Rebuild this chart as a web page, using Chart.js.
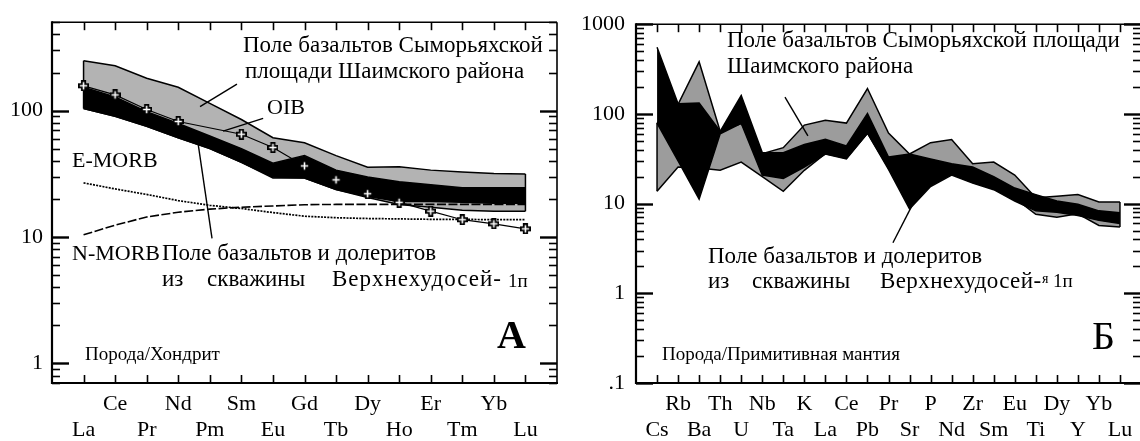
<!DOCTYPE html>
<html><head><meta charset="utf-8">
<script src="https://cdn.jsdelivr.net/npm/chart.js@4"></script>
<style>
html,body{margin:0;padding:0;background:#fff;}
#wrap{position:relative;width:1140px;height:441px;overflow:hidden;background:#fff;}
#pa{position:absolute;left:0;top:0;}
#pb{position:absolute;left:570px;top:0;}
</style></head>
<body>
<div id="wrap">
<canvas id="pa" width="570" height="441"></canvas>
<canvas id="pb" width="580" height="441"></canvas>
</div>
<script>
// ---------- Panel A: REE / chondrite ----------
const elemsA = ['La','Ce','Pr','Nd','Pm','Sm','Eu','Gd','Tb','Dy','Ho','Er','Tm','Yb','Lu'];
const oibA   = [157,133,102,82,null,65,51,36.5,28.3,22,18.8,16,13.7,12.7,11.6];
const emorbA = [26.8,24,21.7,19.4,17.8,16.8,15.6,14.6,14.2,14,13.9,13.8,13.8,13.7,13.7];
const nmorbA = [10.4,12.4,14.4,15.7,16.6,17.2,17.6,18,18.1,18.1,18.1,18.1,18.1,18.1,18.1];
const greyUpA  = [248,226,180,153,114,85,61,55.6,44,35.6,36,33.8,32.6,31.8,31.5];
const greyLoA  = [104,90,75,61,50,39,29.3,29.3,23.7,20.5,18.1,17.2,16.3,16,16];
const blackUpA = [153,128,98,79,63,50,38.3,44,33.8,29.8,27.3,25.9,24.5,24.5,24.5];
const blackLoA = [104,90,75,61,50,39,29.8,29.3,23.7,20.9,19.1,19.1,18.8,18.5,18.5];
const yTicksA  = [1,10,100];
const yLabelsA = ['1','10','100'];

// ---------- Panel B: spider / primitive mantle ----------
const elemsB = ['Cs','Rb','Ba','Th','U','Nb','Ta','K','La','Ce','Pb','Pr','Sr','P','Nd','Zr','Sm','Eu','Ti','Dy','Y','Yb','Lu'];
const greyUpB  = [79,128,380,64,78,36,42,75,85,79,192,61,35.7,47.8,51.9,27.8,29,20.8,11.6,12.1,12.6,10.4,10.4];
const greyLoB  = [13.7,25.6,25,23.5,29,20,13.7,23.5,36,32,61,25,20,18,22,18,15,11.5,7.6,7.05,7.7,5.7,5.5];
const blackUpB = [555,130,132,64,160,37,37,45.6,52,44,101,33,35.7,31.5,27.8,25.6,20,14.9,12.6,10.7,9.85,8.3,7.9];
const blackLoB = [79,30,11.2,60,78.7,20.8,19.1,25.6,35.7,31.5,61,24,8.7,15.5,20.8,16.9,14.3,10.7,8.3,8,7.35,6.5,6.0];
const yTicksB  = [0.1,1,10,100,1000];
const yLabelsB = ['.1','1','10','100','1000'];

const FONT = '"Liberation Serif", "Times New Roman", serif';

function pts(arr){ return arr.map((v,i)=>({x:i,y:v})).filter(p=>p.y!==null); }
function edge(i, lo, hi){ return [{x:i,y:lo[i]},{x:i,y:hi[i]}]; }

function plusMarker(){
  const c=document.createElement('canvas'); c.width=11; c.height=11;
  const g=c.getContext('2d');
  const p=[[3.8,0.9],[7.2,0.9],[7.2,3.8],[10.1,3.8],[10.1,7.2],[7.2,7.2],[7.2,10.1],[3.8,10.1],[3.8,7.2],[0.9,7.2],[0.9,3.8],[3.8,3.8]];
  g.beginPath(); p.forEach((q,i)=>i?g.lineTo(q[0],q[1]):g.moveTo(q[0],q[1])); g.closePath();
  g.fillStyle='#fff'; g.fill(); g.strokeStyle='#000'; g.lineWidth=1.8; g.stroke();
  return c;
}

const framePlugin = {
  id:'frame',
  afterDraw(chart){
    const {ctx, chartArea:a, scales:{x,y}} = chart;
    ctx.save(); ctx.strokeStyle='#000'; ctx.lineCap='butt';
    const L=(x1,y1,x2,y2)=>{ctx.beginPath();ctx.moveTo(x1,y1);ctx.lineTo(x2,y2);ctx.stroke();};
    const lo=y.min, hi=y.max;
    for(let e=Math.floor(Math.log10(lo)); e<=Math.ceil(Math.log10(hi)); e++){
      for(let m=1;m<=9;m++){
        const v=m*Math.pow(10,e);
        if(v<lo*0.999||v>hi*1.001) continue;
        const py=Math.round(y.getPixelForValue(v))+0.5;
        const len = m===1?17:8;
        ctx.lineWidth = m===1?2.4:1.6;
        L(a.left,py,a.left+len,py); L(a.right,py,a.right-len,py);
      }
    }
    ctx.lineWidth=1.6;
    x.ticks.forEach(t=>{const px=Math.round(x.getPixelForValue(t.value))+0.5; L(px,a.bottom,px,a.bottom-8); L(px,a.top,px,a.top+8);});
    ctx.lineWidth=2.2;
    L(a.left,a.top-1,a.left,a.bottom+1); L(a.left-1,a.bottom,a.right+1,a.bottom);
    ctx.lineWidth=1.6;
    L(a.left,a.top,a.right,a.top); L(a.right,a.top,a.right,a.bottom);
    ctx.restore();
  }
};

const notePlugin = {
  id:'notes',
  afterDraw(chart, args, opts){
    const {ctx, scales:{x,y}} = chart;
    ctx.save(); ctx.fillStyle='#000'; ctx.strokeStyle='#000';
    (opts.lines||[]).forEach(l=>{
      ctx.lineWidth=1.4; ctx.beginPath();
      ctx.moveTo(x.getPixelForValue(l[0]), y.getPixelForValue(l[1]));
      ctx.lineTo(x.getPixelForValue(l[2]), y.getPixelForValue(l[3]));
      ctx.stroke();
    });
    ctx.textBaseline='middle'; ctx.textAlign='left';
    (opts.texts||[]).forEach(t=>{
      ctx.font=(t.bold?'bold ':'')+t.size+'px '+FONT;
      ctx.letterSpacing = (t.ls||0)+'px';
      ctx.fillText(t.t, t.x, t.y);
    });
    ctx.letterSpacing='0px';
    ctx.restore();
  }
};

function makeChart(id, cfg){
  const n=cfg.elems.length;
  const marker=plusMarker();
  const datasets=[];
  const line=(data,extra)=>Object.assign({type:'line',data,borderColor:'#000',borderWidth:1.5,pointRadius:0,fill:false,tension:0,order:0},extra);
  if(cfg.oib){
    datasets.push(line(pts(cfg.oib),{borderWidth:1.2,pointStyle:marker,pointRadius:5.5}));
    datasets.push(line(pts(cfg.emorb),{borderWidth:1.7,borderDash:[2,1.2]}));
    datasets.push(line(pts(cfg.nmorb),{borderWidth:1.6,borderDash:[9,2.5]}));
  }
  const bLo=datasets.length;
  datasets.push(line(pts(cfg.blackLo),{order:1}));
  datasets.push(line(pts(cfg.blackUp),{order:1,fill:bLo,backgroundColor:'#000'}));
  const gLo=datasets.length;
  datasets.push(line(pts(cfg.greyLo),{order:3}));
  datasets.push(line(pts(cfg.greyUp),{order:3,fill:gLo,backgroundColor:cfg.grey}));
  datasets.push(line(edge(0,cfg.greyLo,cfg.greyUp),{order:2}));
  datasets.push(line(edge(n-1,cfg.greyLo,cfg.greyUp),{order:2}));
  return new Chart(document.getElementById(id),{
    type:'line',
    data:{datasets},
    options:{
      responsive:false, animation:false, devicePixelRatio:1, events:[],
      layout:{padding:{left:0,right:cfg.padRight,top:14,bottom:0}},
      plugins:{legend:{display:false},tooltip:{enabled:false},notes:cfg.notes},
      scales:{
        x:{type:'linear',min:-1,max:n,
           grid:{display:false,drawTicks:false},border:{display:false},
           afterBuildTicks:s=>{s.ticks=cfg.elems.map((_,i)=>({value:i}));},
           afterFit:s=>{s.height=58;},
           ticks:{autoSkip:false,maxRotation:0,padding:8,color:'#000',font:{family:FONT,size:22,lineHeight:1.2},
             callback:v=>{const i=Math.round(v); const lab=cfg.elems[i]; if(lab===undefined) return ''; return i%2===0?['',lab]:[lab,''];}}},
        y:{type:'logarithmic',min:cfg.ymin,max:cfg.ymax,
           grid:{display:false,drawTicks:false},border:{display:false},
           afterBuildTicks:s=>{s.ticks=cfg.yTicks.map(v=>({value:v,major:true}));},
           afterFit:s=>{s.width=cfg.axisW;},
           ticks:{autoSkip:false,padding:cfg.yPad,color:'#000',font:{family:FONT,size:22},
             callback:v=>{const i=cfg.yTicks.findIndex(t=>Math.abs(t-v)/t<1e-6); return i>=0?cfg.yLabels[i]:'';}}}
      }
    },
    plugins:[framePlugin,notePlugin]
  });
}

makeChart('pa',{
  elems:elemsA, oib:oibA, emorb:emorbA, nmorb:nmorbA,
  greyUp:greyUpA, greyLo:greyLoA, blackUp:blackUpA, blackLo:blackLoA,
  grey:'#b3b3b3', ymin:0.7, ymax:500, yTicks:yTicksA, yLabels:yLabelsA,
  axisW:52, padRight:13, yPad:9,
  notes:{
    lines:[[4.86,161.6,3.69,107.4],[5.69,86.8,4.42,68.8],[3.63,54.6,4.07,9.74]],
    texts:[
      {t:'Поле базальтов Сыморьяхской',x:243,y:46,size:23},
      {t:'площади Шаимского района',x:245,y:72,size:23},
      {t:'OIB',x:267,y:108,size:22},
      {t:'E-MORB',x:72,y:161,size:22},
      {t:'N-MORB',x:72,y:254,size:22},
      {t:'Поле базальтов и долеритов',x:162,y:254,size:23},
      {t:'из',x:162,y:280,size:23},
      {t:'скважины',x:207,y:280,size:23},
      {t:'Верхнехудосей-',x:332,y:280,size:23,ls:1},
      {t:'1п',x:508,y:282,size:19},
      {t:'Порода/Хондрит',x:85,y:355,size:19},
      {t:'А',x:497,y:338,size:40,bold:true}
    ]
  }
});

makeChart('pb',{
  elems:elemsB,
  greyUp:greyUpB, greyLo:greyLoB, blackUp:blackUpB, blackLo:blackLoB,
  grey:'#9c9c9c', ymin:0.1, ymax:1000, yTicks:yTicksB, yLabels:yLabelsB,
  axisW:66, padRight:9, yPad:11,
  notes:{
    lines:[[6.08,154,7.17,56.9],[12.11,9.44,11.21,3.66]],
    texts:[
      {t:'Поле базальтов Сыморьяхской площади',x:157,y:41,size:23},
      {t:'Шаимского района',x:157,y:67,size:23},
      {t:'Поле базальтов и долеритов',x:138,y:257,size:23},
      {t:'из',x:138,y:282,size:23},
      {t:'скважины',x:182,y:282,size:23},
      {t:'Верхнехудосей-',x:310,y:282,size:23,ls:0.4},
      {t:'я',x:472,y:279,size:14},
      {t:'1п',x:483,y:282,size:19},
      {t:'Порода/Примитивная мантия',x:92,y:355,size:19},
      {t:'Б',x:522,y:338,size:40}
    ]
  }
});
</script>
</body></html>
